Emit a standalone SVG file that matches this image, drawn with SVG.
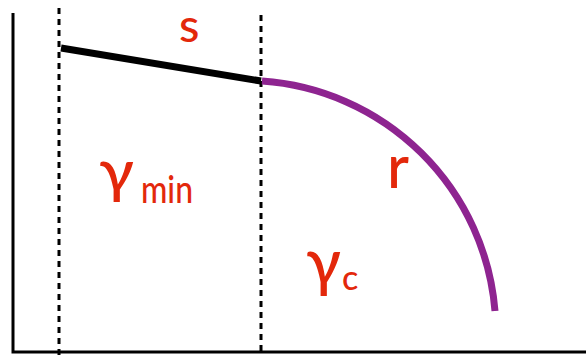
<svg xmlns="http://www.w3.org/2000/svg" width="586" height="355" viewBox="0 0 586 355">
<style>
.lbl{font-family:Lato,"Open Sans",sans-serif;font-weight:500;fill:#e3280b}
.dash{stroke:#000;stroke-width:3;stroke-dasharray:6,5;fill:none}
</style>
<rect width="586" height="355" fill="#fff"/>
<g id="axes" fill="none" stroke="#000" stroke-width="3">
<path d="M13,13 V352 H586"/>
</g>
<g id="guides">
<line class="dash" x1="59" y1="8" x2="59" y2="355"/>
<line class="dash" x1="261" y1="15" x2="261" y2="355"/>
</g>
<g id="connectors">
<line id="s-line" x1="61" y1="48" x2="261" y2="81" stroke="#000" stroke-width="7"/>
<path id="r-arc" d="M262,81 A251,251 0 0 1 495,311" fill="none" stroke="#8e2490" stroke-width="7"/>
</g>
<g id="labels">
<text class="lbl" x="179" y="42" font-size="47" font-weight="700">s</text>
<text class="lbl" x="387" y="188" font-size="60">r</text>
<text class="lbl" x="99" y="192" font-size="59" textLength="35" lengthAdjust="spacingAndGlyphs">γ</text>
<text class="lbl" x="141" y="203" font-size="38" textLength="52" lengthAdjust="spacingAndGlyphs">min</text>
<text class="lbl" x="306" y="285" font-size="66" textLength="35" lengthAdjust="spacingAndGlyphs">γ</text>
<text class="lbl" x="342" y="290" font-size="34">c</text>
</g>
</svg>
